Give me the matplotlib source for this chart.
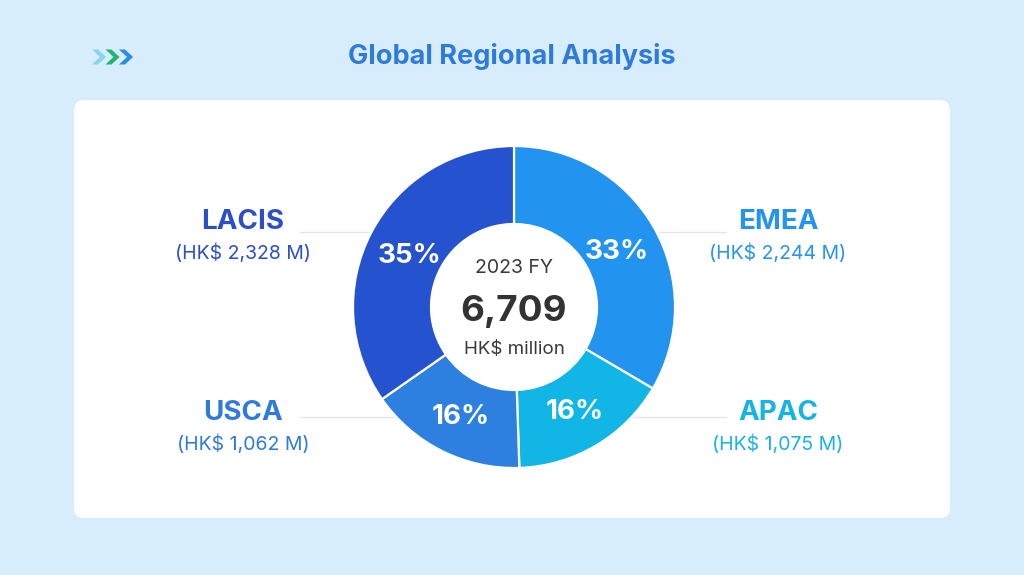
import matplotlib
matplotlib.use("Agg")
import matplotlib.pyplot as plt
from matplotlib.patches import FancyBboxPatch, Polygon, Circle

# ---- data ----
regions = ["EMEA", "APAC", "USCA", "LACIS"]
values = [2244, 1075, 1062, 2328]          # HK$ million, FY2023
total_label = "6,709"
year_label = "2023 FY"
unit_label = "HK$ million"
title = "Global Regional Analysis"

# ---- styles ----
seg_colors = ["#2393F0", "#12B6E6", "#2E80E0", "#2552CF"]
text_colors = ["#2494EE", "#16B3E4", "#2E7ADD", "#2A4FC8"]
BG = "#D8EDFC"
plt.rcParams["font.family"] = ["Inter", "DejaVu Sans"]

W, H = 1024, 575
fig = plt.figure(figsize=(W / 100, H / 100), dpi=100, facecolor=BG)
ax = fig.add_axes([0, 0, 1, 1])
ax.set_facecolor(BG)


def py(y):
    return H - y


# card
card = FancyBboxPatch((74, py(518)), 950 - 74, 518 - 100,
                      boxstyle="round,pad=0,rounding_size=10",
                      fc="#FFFFFF", ec="none", zorder=0)
ax.add_patch(card)

# chevrons icon
chev_cols = ["#86D6F2", "#22B27A", "#2B8BE8"]
for i, c in enumerate(chev_cols):
    x0 = 92 + i * 13.5
    yc, h, t, w = py(57), 7.5, 6, 8
    pts = [(x0, yc + h), (x0 + t, yc + h), (x0 + t + w, yc), (x0 + t, yc - h),
           (x0, yc - h), (x0 + w, yc)]
    ax.add_patch(Polygon(pts, closed=True, fc=c, ec="none", zorder=2))

ax.text(512, py(57), title, ha="center", va="center", fontsize=19.5,
        fontweight="bold", color="#2E7BDB", zorder=3)

# guide lines behind donut
line_col = "#E2E7EE"
for yy in (232, 417):
    ax.plot([300, 726], [py(yy), py(yy)], color=line_col, lw=1, zorder=1)

# donut
cx, cy, R, r_in = 514, py(307), 161, 83
wedges, _, autotexts = ax.pie(
    values, colors=seg_colors, startangle=90, counterclock=False,
    radius=R, center=(cx, cy), autopct="%.0f%%", pctdistance=118 / R,
    wedgeprops=dict(width=R - r_in, edgecolor="white", linewidth=1.6),
    textprops=dict(color="white", fontsize=20, fontweight="bold"))
for wdg in wedges:
    wdg.set_zorder(4)
for at in autotexts:
    at.set_zorder(6)
    x, y = at.get_position()
    at.set_position((x, y - 4))
ax.add_patch(Circle((cx, cy), r_in, fc="white", ec="none", zorder=5))

# centre text
ax.text(cx, py(268), year_label, ha="center", va="center", fontsize=14,
        color="#3A3A3A", zorder=7)
ax.text(cx, py(312), total_label, ha="center", va="center", fontsize=26.5,
        fontweight="bold", color="#333333", zorder=7)
ax.text(cx, py(350), unit_label, ha="center", va="center", fontsize=13.5,
        color="#3A3A3A", zorder=7)

# side labels
label_pos = {"LACIS": (243, 222), "EMEA": (778, 222),
             "USCA": (243, 413), "APAC": (778, 413)}
for name, val, col in zip(regions, values, text_colors):
    x, y = label_pos[name]
    ax.text(x, py(y), name, ha="center", va="center", fontsize=20,
            fontweight="bold", color=col, zorder=3)
    ax.text(x, py(y + 31), f"(HK$ {val:,} M)", ha="center", va="center",
            fontsize=14, color=col, zorder=3)

ax.set_xlim(0, W)
ax.set_ylim(0, H)
ax.set_aspect("auto")
ax.axis("off")

fig.savefig("out.png", dpi=100, facecolor=BG)
